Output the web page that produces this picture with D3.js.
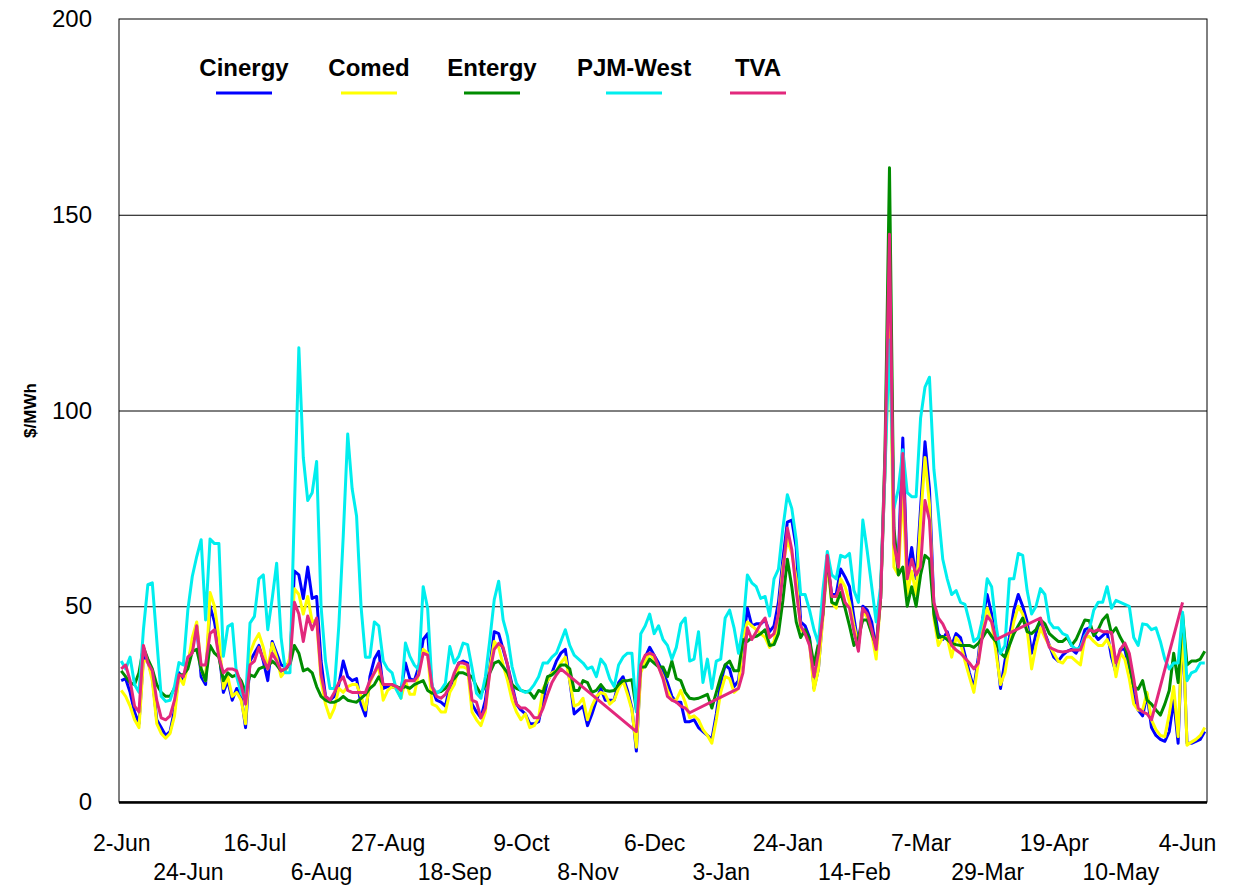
<!DOCTYPE html>
<html>
<head>
<meta charset="utf-8">
<script src="https://cdn.jsdelivr.net/npm/d3@7"></script>
<style>
  body { margin: 0; background: #fff; }
  text { font-family: "Liberation Sans", Arial, sans-serif; }
</style>
</head>
<body>
<svg id="chart" width="1236" height="888"></svg>
<script>
var seriesNames = ["Cinergy", "Comed", "Entergy", "PJM-West", "TVA"];
var seriesColors = ["#0000ff", "#ffff00", "#008c00", "#00eeee", "#e2287c"];

var cinergy = [
  31,31.5,28,23,20,37,36,32,21,19,17,18,23.5,33,31,36,40,45,32,30,50,46,39,28,31,26,29,27,19,36,38,
  40,36,31,41,38,35,34.5,36,59,58,52,60,52,52.5,36,27,26,27,30,36,32,31,31.5,25,22,32,36.5,38.5,29,29.5,
  29.5,29,28.5,35.5,31.5,31,34.5,41.5,43,29,26,25.5,24.5,29.5,31.5,35.5,36,35.5,25,23,21.5,26,34.5,43.5,43,39,35,30,25,23.5,22.5,
  20,20,20.5,26,31,33,36,38,39,31,22.5,23.5,24.5,19.5,22.5,26,29,26,26,26,30.5,32,28.5,24,13,34.5,37,39.5,37.5,35.5,
  33,30.5,27,25.5,25.5,20.5,20.5,21,19,18,17,16,22.5,30.5,35,34,29.5,31,40,49.5,45,45.5,45.5,46.5,43.5,45,51,62,71.5,72,65,
  46,45,42,29,34,48,61,53,53,59.5,57.5,55,47,40,50,49,46,39,52,85,140,65,62,93,58,65,57,75,92,80,50,
  43,41.5,43.5,40,43,42,37.5,33,29,37,47,53,48,40,29,36,42,49,53,50,46,38,43,46.5,43,40,37,36,37.5,38.5,
  39,38,40,44,44.5,43,41.5,42.5,43.5,37,33,39,39,34,27.5,23.5,22,27.5,19,17,16,15.5,18,26,15,45,15,15,15.5,16,18
];
var comed = [
  28.5,27,24.5,21,19,36,36,31,20,17.5,16.3,17.5,22,32,30,35,42,46,34,31,53.5,50,42,29,32,27,28,26,20,38,41,
  43,39.5,34,40.5,37,32,33.5,37,54.5,53,48,52.5,46,46.5,31,25,21.5,24,29,28,29.5,30,30,27,23.5,30.5,33,34.5,26,28.5,
  29.5,29,26.5,31,27.5,27.5,33,39,38,25,24.5,23,23,28,30,34.5,34.5,34,23,21,19.5,23,34,41,39.5,35,31,26,23,21,22.5,
  19,19.5,21.5,29,31,33,33.5,35.5,37,31,24.5,25,26.5,21,24.5,27,28,27.5,25,26,29,31,27.5,23.5,14,33,36,38,36.5,34.5,
  32,28.5,26,26,28.5,25.5,21.5,22,21,18.5,17,15,21,28,32,31.5,28,29,42,46,45,44,43,42,39.5,41,48,60,67,63.5,57,
  44,43,40.5,28.5,34,47,61,51,49.5,57,55,51,45,40,49,47,43,36.5,52,85,125,60,58,80,53,59,53,72,88,76,47,
  40,42,42,37,42,40.5,36,32,28,35.5,46,49.5,46,38,30,33,40,46,50,48,44,34,40,44.5,42,40,38,36,35.5,37,
  37,36,35,42,42.3,41,40,40,41.5,39,32,38,36.5,31.5,25,23.5,23.5,28,21,18.5,17,16.7,22.5,29.5,16.7,46.5,14.5,15.3,16,17,19
];
var entergy = [
  33.5,32,30.5,30,33,39.5,36.5,34,30,28,27,27,29,32.5,32.5,34,38.5,39,34,31,40,38,37,31,33,32,32.5,31,28,32.5,32,
  34,34.5,34.5,36,35,33.5,34,35,40,38,33.5,34,33,29.5,27,26,25.5,25.5,26,27,26,25.7,25.5,26.5,27.5,29,30,32,30,30,
  30,29.5,29,29.5,29,30,30.5,31,28.5,27.8,28,28.2,29,30.5,31.5,33,33,32.5,32,29.5,27.5,30,33,35.5,36,34.5,33,30,29,28.5,28.2,
  28,26.5,28.5,28,32,32.5,33.5,35,35,34,28.5,28.5,31,30.5,28,28.5,30,28.5,28.3,28.5,30,31,31,31.2,23.5,34.5,34.5,36.5,35.5,34.5,
  34.5,32,36,31.5,31,28,26.5,26.3,26.5,27,27.5,24,28,32,35,36,33.5,33.5,41.5,41,42,42.3,43,44,40,40.2,43,51.5,62,55,46,
  42,44,41.5,35,40.5,48,63,51,50.5,53.5,49.5,45,40,42,46.5,46.5,43,40,52,90,162,70,58,60,50,55,50,58,63,62,48,
  42,42.3,41.5,40.5,40.2,40,40,40,39.5,40.5,42,44,42.3,41,38,37,40,43,45,47,43.5,43,44,46.5,45.5,43,42,41,41,42,
  40,41.5,44,46.5,46.3,42.5,44,46.5,47.8,43,44.5,42,40,35.5,29.5,28.8,31,26,25,23.5,22.2,25,28.5,38,30.5,48,35,36,36,36.5,38.5
];
var pjmWest = [
  36,34,37,30,28,44,55.5,56,41.4,27,25.7,26,29.5,35.6,35,49,57.6,62.7,67,46.5,67.2,66,66,37.2,44.8,45.5,32,27.8,26,45.7,47.4,
  57,58,44,52,61,42,33,33,75,116,88,77,79,87,50,36,29,29,45,68,94,80,73,50,37,37,46,45,36,34,
  33,28.6,26.5,40.6,37.2,35,33.8,55,49.5,29.5,27.8,28.6,30.3,39.7,35.5,37.2,40.6,40.2,34.2,27.8,26.5,32,41.4,51.7,56.4,46.5,42.3,34.6,30.3,28.5,28,
  28.5,30,32,35.5,35.5,37,38,41,44,40,37.5,36.5,35.5,34,34.5,32,36.5,35,31.5,29.5,35,37,38,38,23,43,45,48,43,45,
  41.5,40,36.5,39.5,45.5,47,36,36.5,43.5,30.5,36.5,29,36,36.5,47,49,44.5,38,44.5,58,56,55,52,52.5,47.5,57,59.5,70,78.5,75,67,
  53,53,49,44,40.5,54,64,58,57,63,62.5,63.5,54,51,72,64,55,46,55,85,118,75,80,90,79,78,78,98,106,108.5,85,
  74,62,57,53,54,51,50.5,46,41,42,47,57,55,45,38,40,57,57,63.5,63,54,48,50,54.5,53,46,44.5,44.5,43,42.5,
  40,39,39.5,42.5,44,49,51,51,55,49.5,51.5,51,50.5,50,42,40,45.5,45.3,44,44.5,41,36.5,34,35.5,35.5,48.5,31,33,33.5,35.5,35.5
];
var tva = [
  34,35,31,24.5,23,40,35.5,33.5,26,21.5,21,22,26,32.5,32,37,38,45,35,35,43,44,37,33,34,34,33.5,30,25,35,36,
  39.5,36.5,34,38,36,33.5,34,35.5,51,48,41,47.5,44,47,32.5,27,26,28,30.5,32,28.5,28,28,28,28,31,33,35.5,30,30,
  30,29.5,28.5,31,31,31,32.5,38,37.5,29.5,27,26.5,27.5,29.5,33,35.5,35.5,35,26,25.5,21.5,24,33,39,40.5,39.5,35,29,25,24,24,
  23,21.5,21.5,24,27.5,30.5,32.5,34,null,null,null,null,null,null,null,null,null,null,null,null,null,null,null,null,18,35,37.5,38,37.5,34.5,
  31.5,27,26,25.5,24.5,24,22.8,null,null,null,null,null,null,null,null,null,null,29,33,44.5,41.5,43.5,45.5,47,42,43,48,58.5,70,64.5,54,
  45,43,40,32,38,48,63,52.5,52.5,55.5,51,49.5,43.5,38.5,49.5,48,44,39,52,88,145,66,60,89,57,62,58,60,77,72,51,
  47,45.5,43,40,38.8,38,36.8,35.5,34,35.5,43,47.5,46,41.5,null,null,null,null,null,null,null,null,null,47,43,39.5,39,38.5,38.3,38.5,
  38.8,38.8,38.8,42,44,43.5,44,43.5,43.5,43.3,35.5,39,40.6,38,31.5,24,23,22.5,21,null,null,null,null,null,null,51,null,null,null,null,null
];

var tickLabels = ["2-Jun", "24-Jun", "16-Jul", "6-Aug", "27-Aug", "18-Sep", "9-Oct", "8-Nov", "6-Dec",
                  "3-Jan", "24-Jan", "14-Feb", "7-Mar", "29-Mar", "19-Apr", "10-May", "4-Jun"];
var labelEvery = 15;
var yTicks = [0, 50, 100, 150, 200];
var gridTicks = [50, 100, 150];

var seriesData = [cinergy, comed, entergy, pjmWest, tva];

var svg = d3.select("#chart");
var plot = { l: 119, r: 1207, t: 19, b: 802 };
var n = cinergy.length;

var x = d3.scaleLinear().domain([-0.5, n - 0.5]).range([plot.l, plot.r]);
var y = d3.scaleLinear().domain([0, 200]).range([plot.b, plot.t]);

// gridlines
svg.append("g")
  .attr("transform", "translate(" + plot.l + ",0)")
  .call(d3.axisLeft(y).tickValues(gridTicks).tickSize(-(plot.r - plot.l)).tickFormat(""))
  .call(function(g) { g.select(".domain").remove(); })
  .selectAll("line")
  .attr("stroke", "#000")
  .attr("stroke-width", 1);

// plot frame
svg.append("rect")
  .attr("x", plot.l)
  .attr("y", plot.t)
  .attr("width", plot.r - plot.l)
  .attr("height", plot.b - plot.t)
  .attr("fill", "none")
  .attr("stroke", "#000")
  .attr("stroke-width", 1);

// y axis labels
var yAxis = svg.append("g")
  .attr("transform", "translate(" + plot.l + ",0)")
  .call(d3.axisLeft(y).tickValues(yTicks).tickSize(0).tickPadding(27));
yAxis.select(".domain").remove();
yAxis.selectAll("text")
  .attr("font-size", 24)
  .attr("font-family", "Liberation Sans, Arial, sans-serif")
  .attr("fill", "#000");

svg.append("text")
  .text("$/MWh")
  .attr("transform", "translate(36," + y(100) + ") rotate(-90)")
  .attr("text-anchor", "middle")
  .attr("font-size", 17)
  .attr("font-weight", "bold");

// lines
var line = d3.line()
  .x(function(d) { return x(d[0]); })
  .y(function(d) { return y(d[1]); });

seriesData.forEach(function(vals, k) {
  var pts = vals.map(function(v, i) { return [i, v]; })
    .filter(function(d) { return d[1] != null; });
  svg.append("path")
    .datum(pts)
    .attr("d", line)
    .attr("fill", "none")
    .attr("stroke", seriesColors[k])
    .attr("stroke-width", 3)
    .attr("stroke-linejoin", "round");
});

// bottom axis line
svg.append("line")
  .attr("x1", plot.l)
  .attr("x2", plot.r)
  .attr("y1", plot.b + 0.5)
  .attr("y2", plot.b + 0.5)
  .attr("stroke", "#000")
  .attr("stroke-width", 2.5);

// x labels, staggered in two rows
var xAxis = svg.append("g")
  .attr("transform", "translate(0," + plot.b + ")")
  .call(d3.axisBottom(x)
    .tickValues(tickLabels.map(function(d, i) { return i * labelEvery; }))
    .tickFormat(function(d) { return tickLabels[d / labelEvery]; })
    .tickSize(0));
xAxis.select(".domain").remove();
xAxis.selectAll("text")
  .attr("dy", null)
  .attr("y", function(d) { return (d / labelEvery) % 2 == 0 ? 49 : 78; })
  .attr("font-size", 23)
  .attr("font-family", "Liberation Sans, Arial, sans-serif")
  .attr("fill", "#000");

// legend
var legendX = [244, 369, 492, 634, 758];
var legend = svg.append("g");
seriesNames.forEach(function(name, k) {
  legend.append("text")
    .text(name)
    .attr("x", legendX[k])
    .attr("y", 76)
    .attr("text-anchor", "middle")
    .attr("font-size", 24)
    .attr("font-weight", "bold");
  legend.append("line")
    .attr("x1", legendX[k] - 28)
    .attr("x2", legendX[k] + 28)
    .attr("y1", 93)
    .attr("y2", 93)
    .attr("stroke", seriesColors[k])
    .attr("stroke-width", 3);
});
</script>
</body>
</html>
